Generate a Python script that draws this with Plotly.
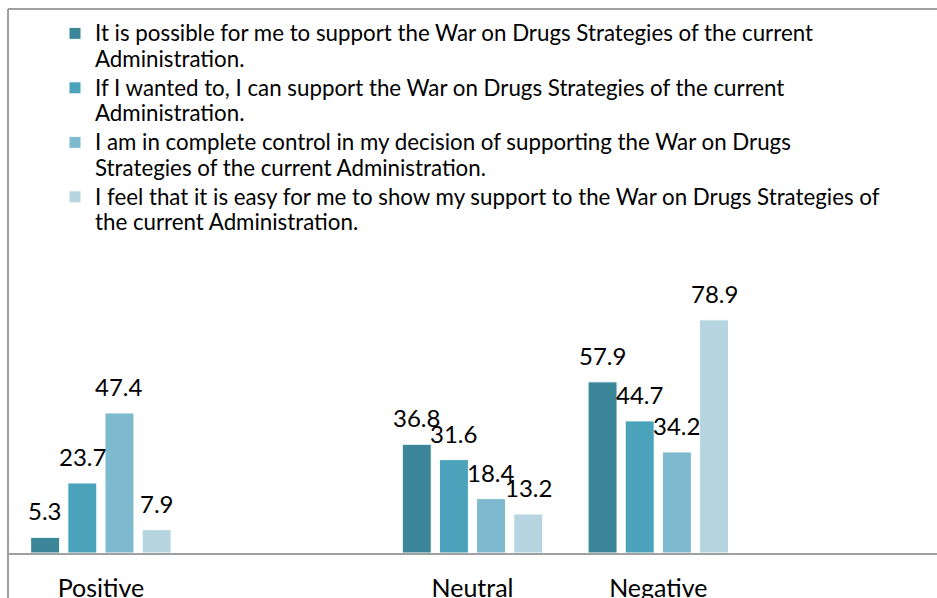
import plotly.graph_objects as go

categories = ["Positive", " ", "Neutral", "Negative", "  "]
series_names = [
    "It is possible for me to support the War on Drugs Strategies of the current<br>Administration.",
    "If I wanted to, I can support the War on Drugs Strategies of the current<br>Administration.",
    "I am in complete control in my decision of supporting the War on Drugs<br>Strategies of the current Administration.",
    "I feel that it is easy for me to show my support to the War on Drugs Strategies of<br>the current Administration.",
]
values_s1 = [5.3, None, 36.8, 57.9, None]
values_s2 = [23.7, None, 31.6, 44.7, None]
values_s3 = [47.4, None, 18.4, 34.2, None]
values_s4 = [7.9, None, 13.2, 78.9, None]
colors = ["#3B8699", "#4AA3BA", "#7EBACF", "#B6D5E0"]

all_values = [values_s1, values_s2, values_s3, values_s4]

W, H = 937, 598
ML, MR, MT, MB = 8, 0, 287, 45
BARGAP = 0.2
GROUPGAP = 0.22
FONT = "Lato, Calibri, Carlito, sans-serif"
LEGEND_TEXT_SIZE = 22.3


def legend_label(txt):
    return "<br>".join(
        f'<span style="font-size:{LEGEND_TEXT_SIZE}px">{line}</span>'
        for line in txt.split("<br>")
    )


fig = go.Figure()
for name, vals, col in zip(series_names, all_values, colors):
    fig.add_trace(go.Bar(
        x=categories, y=vals, name=legend_label(name),
        marker=dict(color=col, line=dict(color="white", width=1)),
        hoverinfo="x+y",
    ))

# data labels above each bar
plot_w = W - ML - MR
cat_w = plot_w / len(categories)
slot = cat_w * (1 - BARGAP) / len(all_values)
n = len(all_values)
annotations = []
for i, vals in enumerate(all_values):
    off = (i - (n - 1) / 2) * slot
    for c, v in zip(categories, vals):
        if v is None:
            continue
        annotations.append(dict(
            x=c, y=v, xref="x", yref="y", text=f"{v}", showarrow=False,
            xanchor="center", yanchor="bottom", xshift=off, yshift=10,
            font=dict(family=FONT, size=24, color="#000000"),
        ))

ph = H - MT - MB
pw = W - ML - MR
shapes = [
    dict(type="line", xref="paper", yref="paper", x0=0, x1=0,
         y0=-(MB + 5) / ph, y1=(H - MB - 9) / ph,
         line=dict(color="#A0A0A0", width=2)),
    dict(type="line", xref="paper", yref="paper", x0=0, x1=1.01,
         y0=(H - MB - 9) / ph, y1=(H - MB - 9) / ph,
         line=dict(color="#A0A0A0", width=2)),
]

fig.update_layout(
    width=W, height=H,
    margin=dict(l=ML, r=MR, t=MT, b=MB, autoexpand=False),
    paper_bgcolor="white", plot_bgcolor="white",
    barmode="group", bargap=BARGAP, bargroupgap=GROUPGAP,
    font=dict(family=FONT, color="#000000"),
    showlegend=True,
    legend=dict(
        xref="paper", yref="paper",
        x=(55 - ML) / pw, y=(H - MB - 14) / ph, xanchor="left", yanchor="top",
        font=dict(family=FONT, size=19.8, color="#000000"),
        valign="top", tracegroupgap=0, bgcolor="rgba(0,0,0,0)",
    ),
    xaxis=dict(
        type="category", showline=True, linecolor="#A0A0A0", linewidth=2,
        ticks="", showgrid=False, zeroline=False,
        tickfont=dict(family=FONT, size=25, color="#000000"),
        ticklabelstandoff=12,
    ),
    yaxis=dict(range=[0, 90], visible=False, showgrid=False, zeroline=False),
    annotations=annotations,
    shapes=shapes,
)

fig.write_html("out.html")
